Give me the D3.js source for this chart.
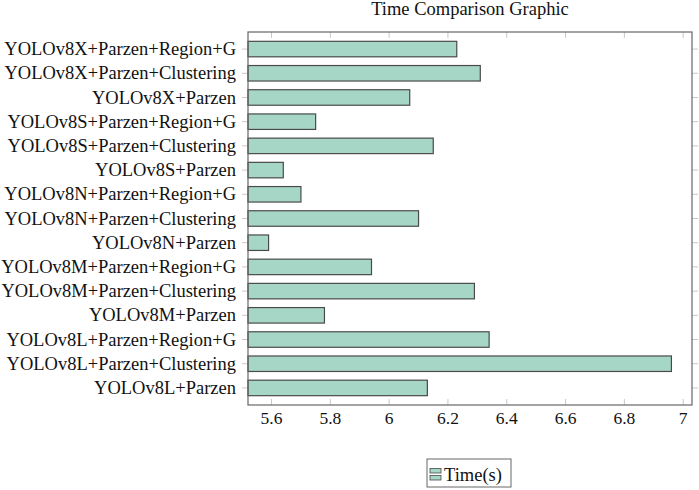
<!DOCTYPE html>
<html>
<head>
<meta charset="utf-8">
<script src="https://cdn.jsdelivr.net/npm/d3@7"></script>
<style>
    body { margin: 0; background: white; }
</style>
</head>
<body>
<div id="chart"></div>
<script>
var categories = [
    'YOLOv8X+Parzen+Region+G',
    'YOLOv8X+Parzen+Clustering',
    'YOLOv8X+Parzen',
    'YOLOv8S+Parzen+Region+G',
    'YOLOv8S+Parzen+Clustering',
    'YOLOv8S+Parzen',
    'YOLOv8N+Parzen+Region+G',
    'YOLOv8N+Parzen+Clustering',
    'YOLOv8N+Parzen',
    'YOLOv8M+Parzen+Region+G',
    'YOLOv8M+Parzen+Clustering',
    'YOLOv8M+Parzen',
    'YOLOv8L+Parzen+Region+G',
    'YOLOv8L+Parzen+Clustering',
    'YOLOv8L+Parzen'
]
var times = [6.23, 6.31, 6.07, 5.75, 6.15, 5.64, 5.70, 6.10, 5.59, 5.94, 6.29, 5.78, 6.34, 6.96, 6.13]
var xTicks = [5.6, 5.8, 6, 6.2, 6.4, 6.6, 6.8, 7]
var xDomain = [5.52, 7.03]
var seriesName = 'Time(s)'
var title = 'Time Comparison Graphic'

var layout = { width: 699, height: 490, left: 248, right: 692, top: 32, bottom: 405 }
var serif = "'Liberation Serif', 'Times New Roman', Times, serif"
var fill = '#a6d7c6'
var edge = '#4a4a4a'
var tickColor = '#c8c8c8'

var svg = d3.select('#chart').append('svg')
    .attr('width', layout.width)
    .attr('height', layout.height)
    .attr('font-family', serif)

var x = d3.scaleLinear().domain(xDomain).range([layout.left, layout.right])
var y = d3.scaleBand().domain(categories).range([layout.top, layout.bottom])
    .paddingInner(0.36).paddingOuter(0.385)

// title
svg.append('text')
    .attr('x', (layout.left + layout.right) / 2)
    .attr('y', 15)
    .attr('text-anchor', 'middle')
    .attr('font-family', serif)
    .attr('font-size', 18.5)
    .attr('fill', '#111')
    .text(title)

// x ticks (inside, top and bottom)
var xt = svg.append('g')
xt.selectAll('line.b').data(xTicks).enter().append('line')
    .attr('x1', d => x(d)).attr('x2', d => x(d))
    .attr('y1', layout.bottom).attr('y2', layout.bottom - 6)
    .attr('stroke', tickColor)
xt.selectAll('line.t').data(xTicks).enter().append('line')
    .attr('x1', d => x(d)).attr('x2', d => x(d))
    .attr('y1', layout.top).attr('y2', layout.top + 6)
    .attr('stroke', tickColor)
xt.selectAll('text').data(xTicks).enter().append('text')
    .attr('x', d => x(d))
    .attr('y', 424)
    .attr('text-anchor', 'middle')
    .attr('font-family', serif)
    .attr('font-size', 17.5)
    .attr('fill', '#111')
    .text(d => d3.format('')(d))

// y ticks (outside, left and right)
var yt = svg.append('g')
yt.selectAll('line.l').data(categories).enter().append('line')
    .attr('x1', layout.left - 6).attr('x2', layout.left)
    .attr('y1', d => y(d) + y.bandwidth() / 2).attr('y2', d => y(d) + y.bandwidth() / 2)
    .attr('stroke', tickColor)
yt.selectAll('line.r').data(categories).enter().append('line')
    .attr('x1', layout.right).attr('x2', layout.right + 6)
    .attr('y1', d => y(d) + y.bandwidth() / 2).attr('y2', d => y(d) + y.bandwidth() / 2)
    .attr('stroke', tickColor)
yt.selectAll('text').data(categories).enter().append('text')
    .attr('x', layout.left - 12)
    .attr('y', d => y(d) + y.bandwidth() / 2)
    .attr('dy', '0.33em')
    .attr('text-anchor', 'end')
    .attr('font-family', serif)
    .attr('font-size', 18.5)
    .attr('fill', '#111')
    .text(d => d)

// bars
svg.append('g').selectAll('rect').data(categories).enter().append('rect')
    .attr('x', x(xDomain[0]))
    .attr('y', d => y(d))
    .attr('width', (d, i) => x(times[i]) - x(xDomain[0]))
    .attr('height', y.bandwidth())
    .attr('fill', fill)
    .attr('stroke', edge)
    .attr('stroke-width', 1.2)

// frame
svg.append('rect')
    .attr('x', layout.left).attr('y', layout.top)
    .attr('width', layout.right - layout.left)
    .attr('height', layout.bottom - layout.top)
    .attr('fill', 'none')
    .attr('stroke', '#666')
    .attr('stroke-width', 1.2)

// legend
var legend = svg.append('g').attr('transform', 'translate(427, 459)')
legend.append('rect')
    .attr('width', 84).attr('height', 28)
    .attr('fill', 'white').attr('stroke', '#666')
legend.selectAll('rect.icon').data([9.5, 16.5]).enter().append('rect')
    .attr('x', 3).attr('y', d => d)
    .attr('width', 11).attr('height', 4.5)
    .attr('fill', fill).attr('stroke', edge).attr('stroke-width', 0.8)
legend.append('text')
    .attr('x', 17).attr('y', 21.5)
    .attr('font-family', serif)
    .attr('font-size', 18.5)
    .attr('fill', '#111')
    .text(seriesName)
</script>
</body>
</html>
